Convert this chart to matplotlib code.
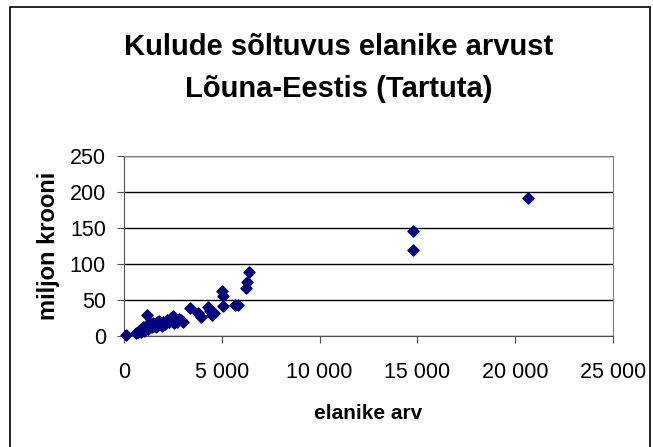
import matplotlib.pyplot as plt
from matplotlib.patches import Rectangle
from matplotlib.ticker import FuncFormatter

# elanike arv (population) vs kulud (miljon krooni)
elanikud = [100, 600, 700, 800, 850, 900, 950, 1000, 1050, 1100, 1150, 1200, 1250, 1300,
            1350, 1400, 1450, 1500, 1550, 1600, 1650, 1700, 1750, 1800, 1850, 1900, 1950,
            2000, 2100, 2200, 2300, 2400, 2450, 2500, 2550, 2600, 2700, 2800, 2900, 3000,
            1200, 3350, 3800, 3950, 4300, 4400, 4500, 4600, 5000, 5080, 5080, 5650, 5850,
            6280, 6250, 6400, 14800, 14800, 20650]
kulud = [2, 4, 6, 8, 5, 10, 12, 7, 9, 13, 11, 15, 10, 14,
         12, 16, 13, 18, 14, 17, 12, 19, 15, 21, 16, 18, 14,
         20, 17, 22, 19, 25, 21, 28, 18, 23, 20, 24, 22, 19,
         29, 39, 32, 26, 40, 35, 29, 32, 63, 56, 41, 43, 43,
         75, 67, 89, 146, 119, 192]

xticks = [0, 5000, 10000, 15000, 20000, 25000]
yticks = [0, 50, 100, 150, 200, 250]

plt.rcParams['font.family'] = ['Liberation Sans', 'DejaVu Sans']

fig = plt.figure(figsize=(6.53, 4.47), dpi=100)
fig.patches.append(Rectangle((10 / 653, -0.01), 640 / 653, 1 - 7 / 447 + 0.01,
                             transform=fig.transFigure, fill=False,
                             edgecolor='black', linewidth=1.2))

ax = fig.add_axes([124 / 653, 1 - 336 / 447, 489 / 653, 180 / 447])
ax.scatter(elanikud, kulud, marker='D', s=32, color='#000080', zorder=3,
           clip_on=False)

ax.set_xlim(0, 25000)
ax.set_ylim(0, 250)
ax.set_xticks(xticks)
ax.set_yticks(yticks)
ax.xaxis.set_major_formatter(FuncFormatter(lambda v, p: f'{int(v):,}'.replace(',', ' ')))
ax.yaxis.grid(True, color='black', linewidth=1)
ax.set_axisbelow(True)
for side in ['top', 'right']:
    ax.spines[side].set_color('#808080')
for side in ['left', 'bottom']:
    ax.spines[side].set_color('#505050')
ax.tick_params(axis='both', labelsize=15.5, length=5, color='#505050')
ax.tick_params(axis='x', pad=14)
ax.tick_params(axis='y', pad=8)

ax.set_xlabel('elanike arv', fontsize=15, fontweight='bold', labelpad=15)
ax.set_ylabel('miljon krooni', fontsize=17, fontweight='bold', labelpad=7)

fig.text(0.518, 1 - 68 / 447, 'Kulude sõltuvus elanike arvust\nLõuna-Eestis (Tartuta)',
         ha='center', va='center', fontsize=21, fontweight='bold', linespacing=1.65)

fig.savefig('out.png', dpi=100)
